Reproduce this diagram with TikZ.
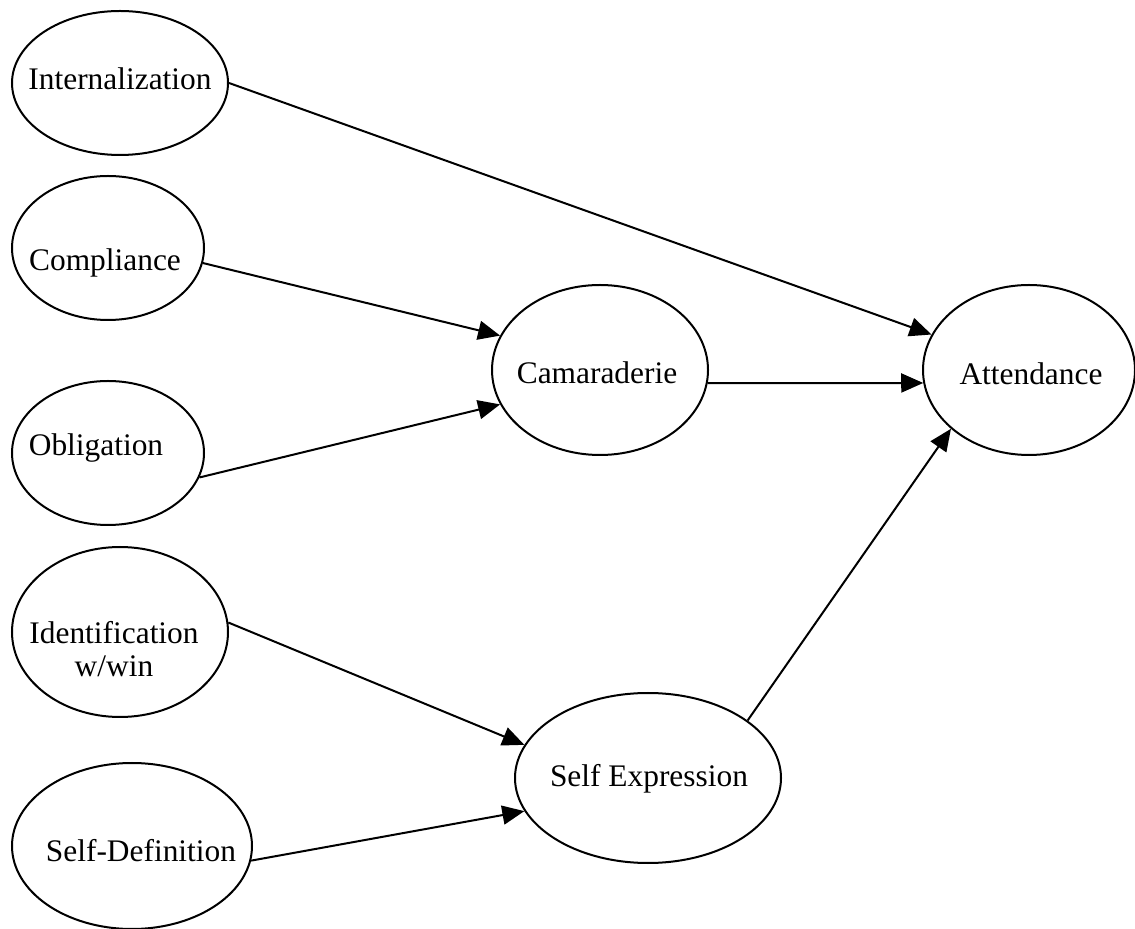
\documentclass[tikz,border=0pt]{standalone}
\usepackage{fontspec}
\setmainfont{Liberation Serif}
\usetikzlibrary{arrows.meta,shapes.geometric}
\tikzset{
	factor/.style={ellipse, draw, line width=1pt, inner sep=0pt},
	caption/.style={inner sep=0pt, align=center, font=\fontsize{15.7}{16.5}\selectfont},
	path/.style={line width=1pt, -{Triangle[length=11pt,width=9.5pt]}}
}
\begin{document}
\begin{tikzpicture}[x=0.5pt,y=-0.5pt]
	\useasboundingbox (0,0) rectangle (1135,929);
	% factors
	\node (int)  at ( 120,  83)	[factor, minimum width=108pt, minimum height=72pt]	{};
	\node (comp) at ( 108, 248)	[factor, minimum width=96pt,  minimum height=72pt]	{};
	\node (obl)  at ( 108, 453)	[factor, minimum width=96pt,  minimum height=72pt]	{};
	\node (iden) at ( 120, 632)	[factor, minimum width=108pt, minimum height=85pt]	{};
	\node (sdef) at ( 132, 846)	[factor, minimum width=120pt, minimum height=83pt]	{};
	\node (cam)  at ( 600, 370)	[factor, minimum width=108pt, minimum height=85pt]	{};
	\node (sexp) at ( 648, 778)	[factor, minimum width=133pt, minimum height=85pt]	{};
	\node (att)  at (1029, 370)	[factor, minimum width=106pt, minimum height=85pt]	{};
	% texts
	\node (int-t)  at ( 120,  79)	[caption]	{Internalization};
	\node (comp-t) at ( 105, 263)	[caption]	{Compliance};
	\node (obl-t)  at (  96, 448)	[caption]	{Obligation};
	\node (iden-t) at ( 114, 649)	[caption]	{Identification\\w/win};
	\node (sdef-t) at ( 141, 851)	[caption]	{Self-Definition};
	\node (cam-t)  at ( 597, 373)	[caption]	{Camaraderie};
	\node (sexp-t) at ( 649, 779)	[caption]	{Self Expression};
	\node (att-t)  at (1031, 374)	[caption]	{Attendance};
	% paths
	\draw[path] (int.east)  -- (att.160);
	\draw[path] (comp.-9)   -- (cam.161);
	\draw[path] (obl.-15)   -- (cam.199);
	\draw[path] (cam.-7)    -- (att.187);
	\draw[path] (iden.5)    -- (sexp.165);
	\draw[path] (sdef.-7)   -- (sexp.195);
	\draw[path] (sexp.30)   -- (att.217);
\end{tikzpicture}
\end{document}
